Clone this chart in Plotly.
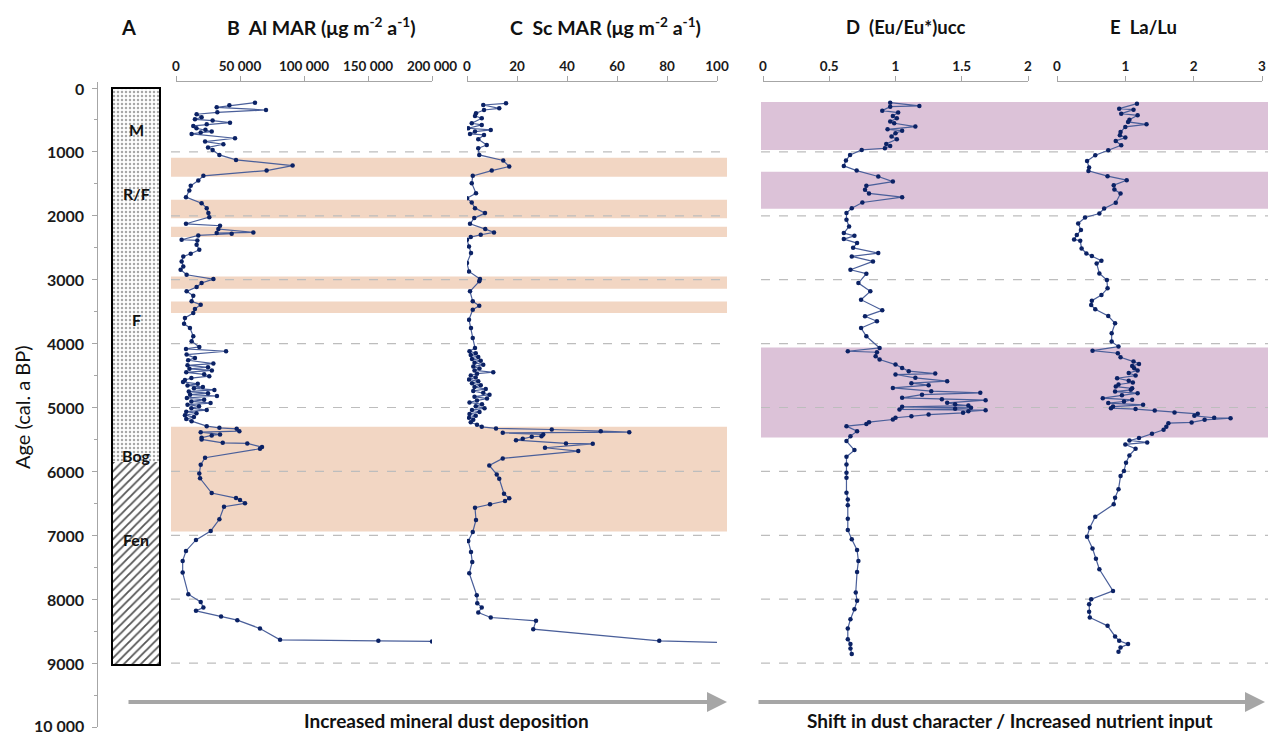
import plotly.graph_objects as go

W, H = 1268, 735
def px(x): return x / W
def py(y): return 1 - y / H

FONT = "Lato"
NAVY = "#0b2265"
LINE = "#4a5f9a"
GRAY = "#a6a6a6"

# ---------------- data ----------------
B_age = [229, 271, 302, 344, 380, 411, 458, 490, 510, 542, 568, 594, 630, 655, 682, 698, 719, 786, 838, 880,
         930, 969, 1047, 1125, 1214, 1292, 1375, 1448, 1531, 1604, 1708, 1802, 1880, 1958, 2021, 2125, 2156,
         2208, 2260, 2271, 2281, 2307, 2375, 2385, 2453, 2531, 2594, 2635, 2714, 2792, 2844, 2922, 2990, 3052,
         3115, 3182, 3250, 3338, 3390, 3458, 3521, 3599, 3688, 3755, 3885, 3964, 4052, 4083, 4120, 4172, 4224,
         4260, 4313, 4340, 4370, 4395, 4420, 4450, 4480, 4510, 4540, 4570, 4600, 4630, 4655, 4680, 4700, 4725,
         4750, 4775, 4800, 4820, 4850, 4880, 4905, 4930, 4955, 4980, 5010, 5040, 5065, 5090, 5120, 5150, 5180,
         5214, 5292, 5318, 5333, 5370, 5386, 5422, 5437, 5474, 5500, 5552, 5562, 5620, 5646, 5786, 5896, 6031,
         6109, 6339, 6417, 6448, 6500, 6552, 6750, 6932, 7073, 7245, 7401, 7583, 7922, 8042, 8130, 8182, 8270,
         8328, 8458, 8635, 8651, 8661]
B_val = [61700, 41700, 31800, 70300, 32300, 16100, 20000, 14800, 28600, 42200, 24000, 13500, 16000, 23000, 27900,
         19300, 12200, 46100, 22700, 37000, 25000, 28600, 33900, 46900, 91100, 70800, 21400, 17400, 11500, 10400,
         7800, 20000, 24000, 25300, 26000, 7800, 34400, 33100, 60400, 31800, 43500, 17400, 4400, 16700, 16100,
         18200, 11500, 5700, 4400, 5700, 3600, 8300, 29200, 20000, 16100, 8300, 13500, 12200, 19300, 14800, 13500,
         7000, 6300, 10900, 13500, 12200, 18200, 7800, 39100, 8300, 14800, 9500, 29200, 9000, 25000, 10500, 28000,
         8000, 22000, 26000, 12000, 7000, 5500, 17000, 9000, 21000, 14000, 30000, 10000, 25000, 11000, 32000, 8500,
         22000, 12000, 27000, 9000, 18000, 12000, 24000, 8000, 16000, 7000, 14000, 8000, 12200, 24000, 33900,
         47400, 49500, 19300, 34400, 27900, 20000, 20000, 36500, 55700, 67200, 65600, 22700, 19300, 18200, 18800,
         27900, 46900, 50000, 53900, 37500, 33900, 27100, 15600, 7800, 5200, 5200, 9600, 19300, 21400, 15600,
         35200, 47900, 65600, 81300, 158100, 200000]

C_age = [240, 266, 318, 344, 396, 438, 474, 552, 578, 630, 656, 682, 719, 734, 802, 891, 943, 1047, 1135, 1229,
         1292, 1375, 1490, 1646, 1724, 1792, 1880, 1958, 2036, 2125, 2208, 2260, 2297, 2333, 2375, 2479, 2583,
         2740, 2870, 2990, 3026, 3182, 3338, 3406, 3469, 3625, 3755, 3911, 4068, 4120, 4150, 4180, 4210, 4240,
         4270, 4300, 4330, 4360, 4390, 4420, 4448, 4470, 4500, 4530, 4560, 4590, 4620, 4650, 4680, 4710, 4740,
         4770, 4800, 4830, 4860, 4890, 4920, 4950, 4980, 5010, 5040, 5070, 5100, 5130, 5160, 5190, 5230, 5270,
         5302, 5328, 5344, 5370, 5386, 5396, 5422, 5448, 5458, 5490, 5511, 5562, 5568, 5630, 5682, 5797, 5906,
         6047, 6115, 6349, 6422, 6464, 6516, 6568, 6760, 6948, 7089, 7260, 7417, 7594, 7938, 8063, 8130, 8208,
         8286, 8339, 8469, 8651, 8677]
C_val = [15.6, 6.5, 12.9, 6.8, 3.6, 3.2, 5.9, 1.9, 5.9, 0.5, 9.5, 3.2, 1.2, 6.8, 4.5, 7.9, 4.5, 4.9, 14.5, 16.9,
         9.9, 2.3, 1.9, 3.6, 0.0, 1.9, 3.2, 7.2, 2.9, 1.2, 7.3, 10.8, 5.5, 1.5, 0.0, 0.8, 1.6, 0.0, 0.8, 5.2, 4.9,
         1.2, 2.3, 4.9, 2.3, 0.8, 1.6, 2.3, 3.2, 1.0, 3.5, 1.5, 4.5, 2.0, 5.5, 3.0, 6.5, 2.5, 5.0, 3.0, 10.5, 4.0,
         1.5, 3.5, 0.8, 4.5, 2.0, 5.5, 3.0, 7.5, 2.5, 6.5, 9.0, 3.0, 8.0, 4.0, 1.0, 6.0, 3.5, 7.0, 2.0, 5.0, 1.0,
         3.5, 0.8, 2.5, 1.5, 4.0, 5.9, 11.6, 33.9, 53.5, 64.9, 14.3, 30.5, 29.8, 25.9, 22.3, 19.6, 39.6, 50.3,
         31.2, 44.5, 14.3, 8.9, 11.9, 12.9, 14.8, 16.9, 15.2, 9.2, 3.2, 3.6, 2.3, 0.5, 1.6, 2.1, 0.9, 3.9, 4.1,
         5.9, 4.5, 9.5, 27.6, 26.5, 76.9, 102.5]

D_age = [229, 281, 292, 354, 385, 438, 474, 526, 552, 604, 646, 667, 709, 760, 802, 875, 906, 943, 969, 1047,
         1135, 1219, 1292, 1385, 1464, 1531, 1594, 1650, 1708, 1792, 1880, 1958, 2063, 2167, 2271, 2313, 2364,
         2427, 2500, 2583, 2635, 2714, 2844, 2906, 3052, 3182, 3313, 3479, 3573, 3651, 3755, 3885, 4068, 4120,
         4135, 4198, 4250, 4328, 4380, 4432, 4469, 4484, 4536, 4588, 4620, 4650, 4693, 4745, 4771, 4800, 4849,
         4870, 4885, 4927, 4950, 4970, 4990, 5005, 5020, 5031, 5042, 5060, 5083, 5110, 5135, 5160, 5188, 5229,
         5260, 5292, 5370, 5448, 5526, 5667, 5771, 5891, 6021, 6099, 6333, 6438, 6531, 6740, 6917, 7063, 7229,
         7401, 7573, 7896, 8026, 8156, 8313, 8458, 8625, 8703, 8771, 8859]
D_val = [0.96, 1.18, 0.96, 0.90, 1.02, 0.98, 1.01, 0.96, 0.99, 1.15, 0.94, 1.05, 1.00, 0.97, 1.01, 0.93, 0.96,
         0.92, 0.745, 0.657, 0.626, 0.61, 0.707, 0.87, 0.98, 0.78, 0.77, 0.80, 1.05, 0.75, 0.67, 0.63, 0.63, 0.65,
         0.61, 0.69, 0.61, 0.71, 0.68, 0.87, 0.67, 0.83, 0.66, 0.78, 0.72, 0.81, 0.74, 0.90, 0.77, 0.86, 0.74, 0.78,
         0.88, 0.64, 0.86, 0.85, 0.88, 1.00, 1.05, 1.10, 1.30, 1.00, 1.15, 1.39, 1.12, 1.25, 0.98, 1.27, 1.64, 1.20,
         1.05, 1.35, 1.68, 1.39, 1.45, 1.55, 1.05, 1.57, 1.45, 1.03, 1.68, 1.55, 1.51, 1.25, 1.12, 1.00, 0.98, 0.80,
         0.78, 0.63, 0.71, 0.66, 0.63, 0.69, 0.63, 0.63, 0.63, 0.63, 0.63, 0.64, 0.64, 0.64, 0.64, 0.67, 0.71, 0.72,
         0.71, 0.70, 0.71, 0.69, 0.66, 0.64, 0.64, 0.66, 0.66, 0.67]

E_age = [245, 323, 339, 401, 427, 495, 531, 568, 609, 688, 740, 776, 828, 896, 974, 1052, 1141, 1245, 1297, 1380,
         1443, 1521, 1589, 1651, 1797, 1886, 1964, 2026, 2120, 2224, 2302, 2370, 2391, 2510, 2589, 2630, 2703,
         2745, 2901, 3005, 3135, 3240, 3328, 3396, 3464, 3568, 3682, 3838, 3969, 4047, 4110, 4151, 4214, 4281,
         4318, 4350, 4385, 4420, 4460, 4500, 4542, 4580, 4609, 4640, 4672, 4700, 4724, 4750, 4776, 4810, 4854,
         4880, 4906, 4930, 4958, 4985, 5010, 5025, 5047, 5078, 5099, 5130, 5160, 5167, 5193, 5234, 5245, 5300,
         5349, 5411, 5479, 5516, 5547, 5578, 5646, 5750, 5865, 5995, 6073, 6281, 6411, 6516, 6708, 6880, 7021,
         7208, 7365, 7531, 7870, 8000, 8078, 8198, 8286, 8417, 8583, 8651, 8703, 8755, 8823]
E_val = [1.17, 0.91, 1.12, 0.94, 1.18, 1.06, 1.04, 1.31, 1.00, 0.93, 0.92, 1.00, 0.86, 0.94, 0.75, 0.56, 0.44,
         0.47, 0.46, 0.74, 1.02, 0.83, 0.84, 0.93, 0.86, 0.69, 0.62, 0.41, 0.31, 0.35, 0.29, 0.25, 0.34, 0.36, 0.43,
         0.51, 0.65, 0.58, 0.62, 0.73, 0.74, 0.65, 0.51, 0.50, 0.56, 0.75, 0.85, 0.80, 0.80, 0.90, 0.52, 0.89, 0.93,
         1.12, 1.20, 1.10, 1.13, 1.18, 1.05, 1.15, 0.88, 1.05, 1.11, 0.90, 0.86, 1.10, 1.08, 0.85, 1.18, 0.95, 0.67,
         1.10, 0.98, 0.75, 1.26, 0.82, 0.79, 1.15, 1.43, 1.72, 2.06, 2.01, 2.30, 2.54, 2.16, 1.97, 1.63, 1.60, 1.56,
         1.39, 1.20, 1.06, 1.32, 1.00, 1.15, 1.06, 1.01, 0.98, 0.93, 0.90, 0.85, 0.83, 0.56, 0.48, 0.44, 0.52, 0.57,
         0.62, 0.82, 0.50, 0.47, 0.47, 0.48, 0.74, 0.85, 0.91, 1.04, 0.93, 0.90]

dust_bands = [(1090, 1390), (1750, 2040), (2170, 2330), (2950, 3140), (3340, 3520), (5300, 6940)]
nutrient_bands = [(220, 970), (1310, 1890), (4060, 5470)]

zone_labels = ["M", "R/F", "F", "Bog", "Fen"]
zone_pos = [650, 1650, 3620, 5750, 7060]
zone_base = [0, 5860]
zone_len = [5860, 3170]

age_ticks = list(range(0, 10001, 1000))
age_labels = [("10 000" if v == 10000 else str(v)) for v in age_ticks]

B_ticks = [0, 50000, 100000, 150000, 200000]
B_text = ["0", "50 000", "100 000", "150 000", "200 000"]
C_ticks = [0, 20, 40, 60, 80, 100]
D_ticks = [0, 0.5, 1, 1.5, 2]
D_text = ["0", "0.5", "1", "1.5", "2"]
E_ticks = [0, 1, 2, 3]

# ---------------- figure ----------------
fig = go.Figure()

def series(ages, vals, xa):
    fig.add_trace(go.Scatter(
        x=vals, y=ages, xaxis=xa, yaxis="y", mode="lines+markers",
        line=dict(color=LINE, width=1.2),
        marker=dict(color=NAVY, size=4.5),
        showlegend=False, hoverinfo="skip"))

series(B_age, B_val, "x")
series(C_age, C_val, "x2")
series(D_age, D_val, "x3")
series(E_age, E_val, "x4")

# Column A lithology bar
fig.add_trace(go.Bar(
    x=["A", "A"], y=zone_len, base=zone_base, xaxis="x5", yaxis="y",
    marker=dict(color="white", line=dict(width=0),
                pattern=dict(shape=[".", "/"], fgcolor=["#a8a8a8", "#555555"], bgcolor="white",
                             size=[4, 6], solidity=[0.3, 0.3])),
    width=1, showlegend=False, hoverinfo="skip"))

shapes = []
for a0, a1 in dust_bands:
    shapes.append(dict(type="rect", xref="paper", yref="y", x0=px(171), x1=px(727), y0=a0, y1=a1,
                       fillcolor="#f2d6c3", line=dict(width=0), layer="below"))
for a0, a1 in nutrient_bands:
    shapes.append(dict(type="rect", xref="paper", yref="y", x0=px(761), x1=px(1268), y0=a0, y1=a1,
                       fillcolor="#dcc2d8", line=dict(width=0), layer="below"))
for g in range(1000, 10000, 1000):
    for xa, xb in [(171, 727), (761, 1268)]:
        shapes.append(dict(type="line", xref="paper", yref="y", x0=px(xa), x1=px(xb), y0=g, y1=g,
                           line=dict(color="#bdbdbd", width=1.2, dash="dash"), layer="below"))
shapes.append(dict(type="rect", xref="paper", yref="y", x0=px(112), x1=px(160), y0=0, y1=9030,
                   line=dict(color="black", width=2), fillcolor="rgba(0,0,0,0)", layer="above"))

tickfont = dict(family=FONT, size=13.5, color="#1a1a1a", weight="bold")
xcommon = dict(side="top", anchor="y", showgrid=False, zeroline=False, showline=True, linecolor=GRAY,
               ticks="outside", ticklen=5, tickcolor=GRAY, tickfont=tickfont, automargin=False)

fig.update_layout(
    template="none",
    width=W, height=H, autosize=False,
    margin=dict(l=0, r=0, t=0, b=0, pad=0),
    paper_bgcolor="white", plot_bgcolor="rgba(0,0,0,0)",
    bargap=0, barmode="overlay",
    shapes=shapes,
    # the bottom label (10 000) sits on the page edge, so the axis labels are drawn as annotations
    yaxis=dict(domain=[py(727), py(82)], range=[10000, -94], anchor="free", position=px(97),
               tickvals=age_ticks, showticklabels=False, showgrid=False, zeroline=False,
               showline=True, linecolor=GRAY, ticks="outside", ticklen=5, tickcolor=GRAY,
               minor=dict(dtick=500, ticks="outside", ticklen=3, tickcolor=GRAY, showgrid=False),
               automargin=False),
    xaxis=dict(domain=[px(176), px(432)], range=[0, 200000], tickvals=B_ticks, ticktext=B_text, **xcommon),
    xaxis2=dict(domain=[px(467), px(717)], range=[0, 100], tickvals=C_ticks, **xcommon),
    xaxis3=dict(domain=[px(763), px(1028)], range=[0, 2], tickvals=D_ticks, ticktext=D_text, **xcommon),
    xaxis4=dict(domain=[px(1057), px(1262)], range=[0, 3], tickvals=E_ticks, **xcommon),
    xaxis5=dict(domain=[px(112), px(160)], anchor="y", visible=False, fixedrange=True, automargin=False),
)

ann = []
def text(x, y, t, size=16, bold=True, angle=0):
    ann.append(dict(x=px(x), y=py(y), xref="paper", yref="paper", text=t, showarrow=False,
                    textangle=angle, xanchor="center", yanchor="middle",
                    font=dict(family=FONT, size=size, color="#111111", weight="bold" if bold else "normal")))

# y-axis tick labels
for v, lab in zip(age_ticks, age_labels):
    ann.append(dict(x=px(86), y=v, xref="paper", yref="y", text=lab, showarrow=False,
                    xanchor="right", yanchor="middle", yshift=(2 if v == 10000 else 0),
                    font=dict(family=FONT, size=16, color="#1a1a1a", weight="bold")))

text(128, 27, "A", 20)
text(321, 27, "B  Al MAR (μg m<sup>-2</sup> a<sup>-1</sup>)", 19.5)
text(605, 27, "C  Sc MAR (μg m<sup>-2</sup> a<sup>-1</sup>)", 19.5)
text(905, 27, "D  (Eu/Eu*)ucc", 18.5)
text(1143, 27, "E  La/Lu", 18.5)
text(22, 407, "Age (cal. a BP)", 20, bold=False, angle=-90)
for lab, a in zip(zone_labels, zone_pos):
    ann.append(dict(x=px(136), y=a, xref="paper", yref="y", text=lab, showarrow=False,
                    xanchor="center", yanchor="middle",
                    font=dict(family=FONT, size=16, color="#111111", weight="bold")))
text(446, 720, "Increased mineral dust deposition", 19)
text(1010, 720, "Shift in dust character / Increased nutrient input", 19)

# arrows
ann.append(dict(x=px(727), y=py(702), xref="paper", yref="paper", ax=-600, ay=0, text="",
                showarrow=True, arrowhead=2, arrowsize=1, arrowwidth=4, arrowcolor=GRAY))
ann.append(dict(x=px(1265), y=py(702), xref="paper", yref="paper", ax=-508, ay=0, text="",
                showarrow=True, arrowhead=2, arrowsize=1, arrowwidth=4, arrowcolor=GRAY))
fig.update_layout(annotations=ann)

fig.write_html("out.html", config={"displayModeBar": False},
               post_script="document.body.style.margin='0px';document.body.style.overflow='hidden';")
